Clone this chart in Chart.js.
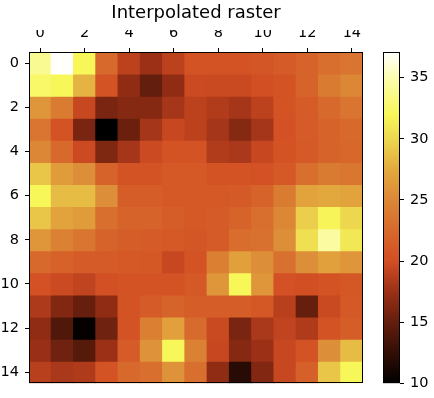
<!DOCTYPE html>
<html>
<head>
<meta charset="utf-8">
<script src="https://cdn.jsdelivr.net/npm/chart.js@4"></script>
<style>
  body { margin: 0; background: #fff; }
  #wrap { position: relative; width: 434px; height: 398px; }
  canvas { position: absolute; left: 0; top: 0; }
</style>
</head>
<body>
<div id="wrap">
  <canvas id="heat" width="434" height="398"></canvas>
  <canvas id="cbar" width="434" height="398"></canvas>
</div>
<script>
const cols = [0, 1, 2, 3, 4, 5, 6, 7, 8, 9, 10, 11, 12, 13, 14];
const rows = [0, 1, 2, 3, 4, 5, 6, 7, 8, 9, 10, 11, 12, 13, 14];

// one array per row
const values = [
  [34, 37, 32, 22.5, 19, 17.5, 19, 20.5, 20.5, 20.5, 20.7, 21.3, 22, 23, 23.5],
  [32.5, 32, 28, 20.5, 17, 15, 17, 19.7, 19.6, 19.6, 20, 20.5, 22, 24, 25],
  [26, 24, 19.5, 16, 16.5, 16.5, 18, 19, 18.5, 18, 19, 20.5, 21.3, 22.5, 23.5],
  [23.5, 20.5, 16, 10, 15.3, 18, 19.5, 19, 18, 16.5, 18, 20.3, 21.3, 22, 22.5],
  [25, 22.5, 19.7, 16.2, 18, 19.7, 20.5, 20.5, 18.5, 18.2, 19.5, 20.5, 21.2, 22, 22.3],
  [29, 26.5, 25.5, 22, 20.5, 20.5, 21, 21, 20.5, 20.5, 20.3, 21, 23, 24, 23.7],
  [32, 28.5, 28.5, 25.5, 21.5, 21.5, 21, 21, 21, 21.2, 22, 24, 27, 27.3, 27],
  [29, 27, 26.5, 23, 22, 22, 21.5, 21, 21.3, 22, 23, 25, 29.5, 31.8, 30],
  [26, 24.5, 23.5, 22, 21.5, 21.3, 21, 20.7, 21.3, 22.8, 23.2, 25.5, 30.5, 34.5, 31],
  [22.5, 21.8, 21.3, 21.3, 21, 20.8, 19.5, 20.5, 24.3, 26.8, 25.5, 23.2, 25.5, 26.8, 26],
  [20.3, 19.7, 19.2, 20.2, 20.5, 20.5, 20.5, 21, 26, 32, 26, 20.3, 20, 20.5, 20.8],
  [18.3, 16.3, 15.1, 17, 20.5, 21.3, 22, 21.5, 21.5, 21.5, 20.8, 18.8, 15.1, 19.6, 21],
  [17, 14, 10.2, 15.5, 20.5, 24.3, 26.8, 22.7, 19.6, 16, 18.2, 19.2, 18.4, 20.5, 21.5],
  [17.4, 15.5, 14.3, 17.5, 21.3, 25.8, 32, 24.5, 19.5, 16.5, 17.5, 19.5, 20.5, 25.5, 28.5],
  [18.8, 18.2, 18.4, 20.5, 22.5, 23, 25.8, 23, 17, 12, 16.3, 19.5, 21.7, 29, 32]
];

const xTicks = [0, 2, 4, 6, 8, 10, 12, 14];
const yTicks = [0, 2, 4, 6, 8, 10, 12, 14];
const cbarTicks = [10, 15, 20, 25, 30, 35];
const vmin = 10;
const vmax = 37.1;

// colour stops sampled from the colorbar
const stops = [
  [10, [0, 0, 0]],
  [12.5, [50, 14, 6]],
  [15, [100, 30, 13]],
  [17.5, [155, 48, 22]],
  [20, [210, 78, 35]],
  [22.5, [215, 105, 44]],
  [25, [220, 135, 54]],
  [27.5, [227, 170, 62]],
  [30, [237, 215, 78]],
  [32, [247, 247, 90]],
  [35, [252, 252, 175]],
  [37.1, [255, 255, 255]]
];

function cmap(v) {
  if (v <= stops[0][0]) return 'rgb(' + stops[0][1].join(',') + ')';
  for (let i = 1; i < stops.length; i++) {
    if (v <= stops[i][0]) {
      const [v0, c0] = stops[i - 1];
      const [v1, c1] = stops[i];
      const t = (v - v0) / (v1 - v0);
      const c = c0.map((a, k) => Math.round(a + (c1[k] - a) * t));
      return 'rgb(' + c.join(',') + ')';
    }
  }
  return 'rgb(' + stops[stops.length - 1][1].join(',') + ')';
}

const frame = {
  id: 'frame',
  afterDraw(chart) {
    const a = chart.chartArea;
    const ctx = chart.ctx;
    ctx.save();
    ctx.strokeStyle = '#000';
    ctx.lineWidth = 1;
    ctx.strokeRect(Math.round(a.left) + 0.5, Math.round(a.top) + 0.5,
      Math.round(a.right - a.left) - 1, Math.round(a.bottom - a.top) - 1);
    ctx.restore();
  }
};

Chart.defaults.font.family = 'DejaVu Sans';
Chart.defaults.color = '#000';
Chart.defaults.animation = false;

const tickFont = { size: 14.5 };
const tickGrid = { display: true, drawOnChartArea: false, drawTicks: true, tickLength: 4, color: '#000', offset: false };

new Chart(document.getElementById('heat'), {
  type: 'bar',
  data: {
    datasets: rows.map((r, i) => ({
      data: cols.map(c => ({ x: c, y: [r - 0.5, r + 0.5] })),
      backgroundColor: values[i].map(cmap),
      borderWidth: 0,
      inflateAmount: 0.5,
      grouped: false,
      barPercentage: 1,
      categoryPercentage: 1
    }))
  },
  options: {
    responsive: false,
    layout: { padding: { left: 0, right: 71, top: 0, bottom: 13 } },
    plugins: {
      legend: { display: false },
      tooltip: { enabled: false },
      title: {
        display: true,
        fullSize: false, // centre over the plot, not the whole canvas
        text: 'Interpolated raster',
        font: { size: 18, weight: 'normal' },
        color: '#000',
        padding: { top: 2.5, bottom: 5.9 }
      }
    },
    scales: {
      x: {
        type: 'linear',
        position: 'top',
        offset: false,
        min: -0.5,
        max: 14.5,
        grid: tickGrid,
        border: { display: false },
        ticks: { font: tickFont, padding: 6, maxRotation: 0 },
        afterBuildTicks: axis => { axis.ticks = xTicks.map(v => ({ value: v })); },
        afterFit: axis => { axis.height = 22; }
      },
      y: {
        type: 'linear',
        reverse: true,
        offset: false,
        min: -0.5,
        max: 14.5,
        grid: tickGrid,
        border: { display: false },
        ticks: { font: tickFont, padding: 6 },
        afterBuildTicks: axis => { axis.ticks = yTicks.map(v => ({ value: v })); },
        afterFit: axis => { axis.width = 29; }
      }
    }
  },
  plugins: [frame]
});

new Chart(document.getElementById('cbar'), {
  type: 'bar',
  data: {
    labels: [''],
    datasets: [{
      data: [[vmin, vmax]],
      borderWidth: 0,
      barPercentage: 1,
      categoryPercentage: 1,
      backgroundColor: ctx => {
        const chart = ctx.chart;
        if (!chart.chartArea) return null;
        const y = chart.scales.y;
        const g = chart.ctx.createLinearGradient(0, y.getPixelForValue(vmin), 0, y.getPixelForValue(vmax));
        stops.forEach(([v, c]) => g.addColorStop((v - vmin) / (vmax - vmin), 'rgb(' + c.join(',') + ')'));
        return g;
      }
    }]
  },
  options: {
    responsive: false,
    layout: { padding: { left: 383, right: 0, top: 52, bottom: 13 } },
    plugins: { legend: { display: false }, tooltip: { enabled: false } },
    scales: {
      x: { display: false },
      y: {
        position: 'right',
        min: vmin,
        max: vmax,
        grid: tickGrid,
        border: { display: false },
        ticks: { font: tickFont, padding: 6 },
        afterBuildTicks: axis => { axis.ticks = cbarTicks.map(v => ({ value: v })); },
        afterFit: axis => { axis.width = 34; }
      }
    }
  },
  plugins: [frame]
});
</script>
</body>
</html>
